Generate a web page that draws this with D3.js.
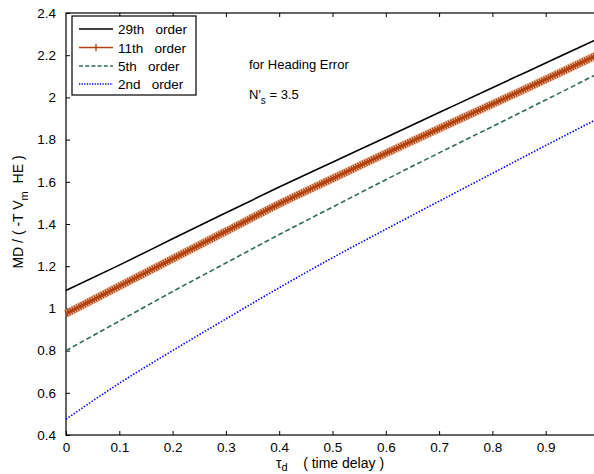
<!DOCTYPE html>
<html>
<head>
<meta charset="utf-8">
<script src="https://cdn.jsdelivr.net/npm/d3@7/dist/d3.min.js"></script>
<style>
  body { margin: 0; background: #fff; }
  svg { display: block; font-family: "Liberation Sans", Arial, sans-serif; }
  text { white-space: pre; }
</style>
</head>
<body>
<svg id="chart" width="594" height="474"></svg>
<script>
// tau_d (time delay)
const tau = [0, 0.1, 0.2, 0.3, 0.4, 0.5, 0.6, 0.7, 0.8, 0.9, 1.0];

// valori
const order29 = [1.085, 1.205, 1.33, 1.453, 1.575, 1.693, 1.81, 1.928, 2.046, 2.163, 2.28];
const order11 = [0.975, 1.105, 1.235, 1.365, 1.495, 1.615, 1.735, 1.852, 1.968, 2.085, 2.205];
const order5  = [0.80, 0.94, 1.08, 1.215, 1.35, 1.48, 1.61, 1.737, 1.862, 1.988, 2.115];
const order2  = [0.475, 0.645, 0.80, 0.95, 1.098, 1.24, 1.375, 1.508, 1.64, 1.772, 1.902];

const xTicks = [0, 0.1, 0.2, 0.3, 0.4, 0.5, 0.6, 0.7, 0.8, 0.9];
const yTicks = [0.4, 0.6, 0.8, 1, 1.2, 1.4, 1.6, 1.8, 2, 2.2, 2.4];
const legendLabels = ["29th   order", "11th   order", "5th   order", "2nd   order"];

const svg = d3.select("#chart");

const mLeft = 66, mTop = 13, mRight = 599, mBottom = 435;

const x = d3.scaleLinear().domain([0, 1]).range([mLeft, mRight]);
const y = d3.scaleLinear().domain([0.4, 2.4]).range([mBottom, mTop]);

const fontSize = "13.5px";

// assi (stile matlab, tick verso l'interno)
svg.append("g")
    .attr("transform", `translate(0,${mBottom})`)
    .call(d3.axisBottom(x).tickValues(xTicks).tickSizeInner(-4).tickSizeOuter(0)
        .tickPadding(7).tickFormat(d3.format("~g")))
    .call(g => g.select(".domain").remove())
    .call(g => g.selectAll("line").attr("stroke", "#000"))
    .call(g => g.selectAll("text").attr("font-size", fontSize).attr("fill", "#000"));

svg.append("g")
    .attr("transform", `translate(0,${mTop})`)
    .call(d3.axisTop(x).tickValues(xTicks.slice(1)).tickSizeInner(-4).tickSizeOuter(0).tickFormat(""))
    .call(g => g.select(".domain").remove())
    .call(g => g.selectAll("line").attr("stroke", "#000"));

svg.append("g")
    .attr("transform", `translate(${mLeft},0)`)
    .call(d3.axisLeft(y).tickValues(yTicks).tickSizeInner(-4).tickSizeOuter(0)
        .tickPadding(10).tickFormat(d3.format("~g")))
    .call(g => g.select(".domain").remove())
    .call(g => g.selectAll("line").attr("stroke", "#000"))
    .call(g => g.selectAll("text").attr("font-size", fontSize).attr("fill", "#000"));

// box
svg.append("rect")
    .attr("x", mLeft).attr("y", mTop)
    .attr("width", mRight - mLeft).attr("height", mBottom - mTop)
    .attr("fill", "none").attr("stroke", "#000").attr("stroke-width", 1.2);

const line = data => d3.line()
    .x((d, i) => x(tau[i]))
    .y(d => y(d))
    .curve(d3.curveMonotoneX)(data);

const plot = svg.append("g");

plot.append("path").attr("d", line(order2))
    .attr("fill", "none").attr("stroke", "#0000ff").attr("stroke-width", 1.6)
    .attr("stroke-dasharray", "1.5,1.6");

plot.append("path").attr("d", line(order5))
    .attr("fill", "none").attr("stroke", "#2e6b50").attr("stroke-width", 1.6)
    .attr("stroke-dasharray", "5,2.8");

// 11th: marker molto fitti -> banda spessa
plot.append("path").attr("d", line(order11))
    .attr("fill", "none").attr("stroke", "#e2a27e").attr("stroke-width", 8.5).attr("opacity", 0.7);
plot.append("path").attr("d", line(order11))
    .attr("fill", "none").attr("stroke", "#b2430f").attr("stroke-width", 7)
    .attr("stroke-dasharray", "1.4,1.1");
plot.append("path").attr("d", line(order11))
    .attr("fill", "none").attr("stroke", "#b2430f").attr("stroke-width", 3);

plot.append("path").attr("d", line(order29))
    .attr("fill", "none").attr("stroke", "#000").attr("stroke-width", 1.6);

// legenda
const legend = svg.append("g");
legend.append("rect")
    .attr("x", 72).attr("y", 16).attr("width", 124).attr("height", 79)
    .attr("fill", "#fff").attr("stroke", "#000").attr("stroke-width", 1.2);

const legStyles = [
    { stroke: "#000", dash: null },
    { stroke: "#b2430f", dash: null },
    { stroke: "#2e6b50", dash: "4,2.2" },
    { stroke: "#0000ff", dash: "1.3,1.3" }
];
const legY = [29, 47.5, 66, 84];

legendLabels.forEach((lab, i) => {
    legend.append("line")
        .attr("x1", 79).attr("x2", 113).attr("y1", legY[i]).attr("y2", legY[i])
        .attr("stroke", legStyles[i].stroke).attr("stroke-width", 1.6)
        .attr("stroke-dasharray", legStyles[i].dash);
    legend.append("text")
        .attr("x", 118).attr("y", legY[i] + 5)
        .attr("font-size", fontSize)
        .text(lab);
});
// marcatore "+" nella legenda
legend.append("line")
    .attr("x1", 96).attr("x2", 96).attr("y1", legY[1] - 3.5).attr("y2", legY[1] + 3.5)
    .attr("stroke", "#b2430f").attr("stroke-width", 1.4);

// annotazioni
svg.append("text").attr("x", 249).attr("y", 69).attr("font-size", "13px")
    .text("for Heading Error");
const ns = svg.append("text").attr("x", 249).attr("y", 99).attr("font-size", "13px");
ns.append("tspan").text("N\u2032");
ns.append("tspan").attr("dy", 5).attr("font-size", "10px").text("s");
ns.append("tspan").attr("dy", -5).text(" = 3.5");

// etichette assi
const yl = svg.append("text")
    .attr("transform", "translate(23,212) rotate(-90)")
    .attr("text-anchor", "middle")
    .attr("font-size", "14px");
yl.append("tspan").text("MD / ( -T V");
yl.append("tspan").attr("dy", 5).attr("font-size", "11px").text("m");
yl.append("tspan").attr("dy", -5).text("  HE )");

const xl = svg.append("text")
    .attr("x", 330).attr("y", 468)
    .attr("text-anchor", "middle")
    .attr("font-size", "14px");
xl.append("tspan").text("\u03c4");
xl.append("tspan").attr("dy", 3).attr("font-size", "11px").text("d");
xl.append("tspan").attr("dy", -3).text("    ( time delay )");
</script>
</body>
</html>
